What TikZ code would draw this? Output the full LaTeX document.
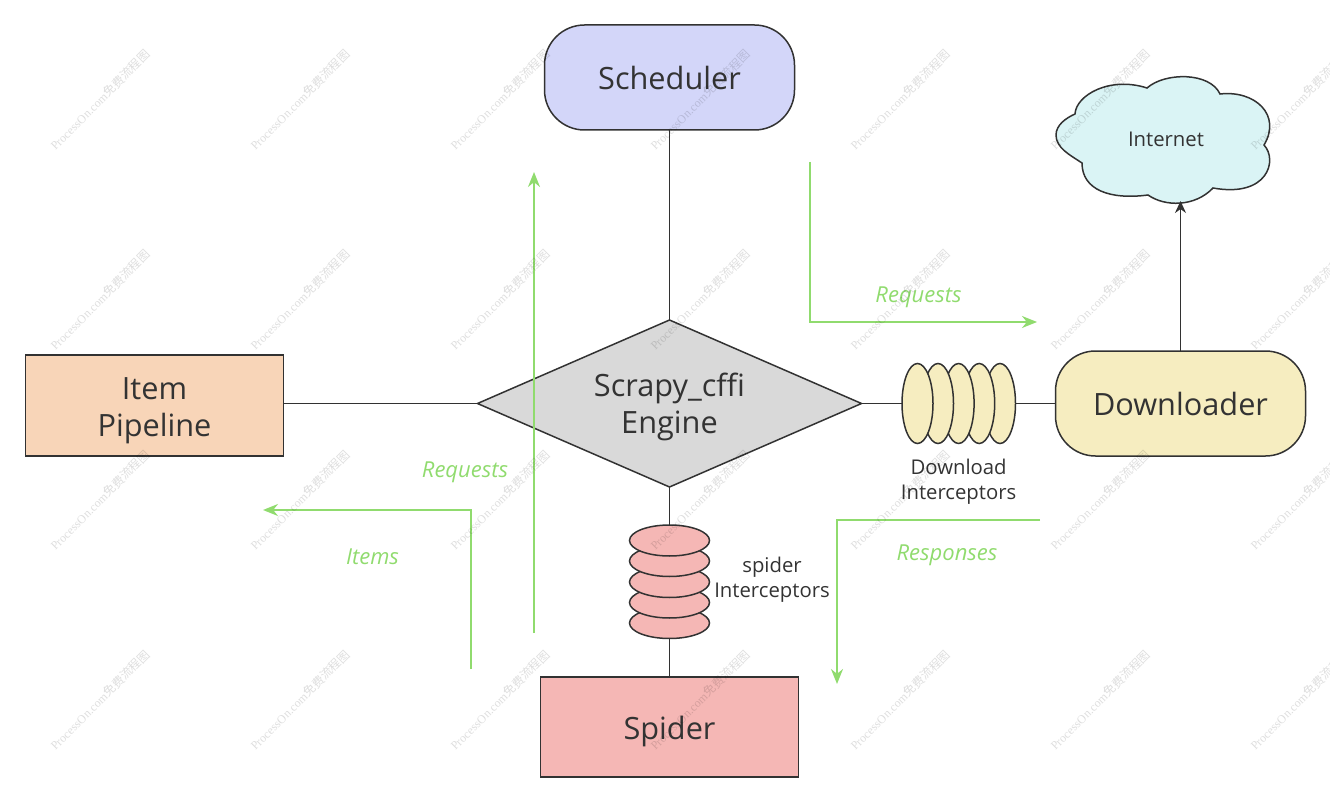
\documentclass[tikz,border=0pt]{standalone}
\usepackage{fontspec}
\setmainfont{Open Sans}
\newfontfamily\markfont{Liberation Serif}
\newfontfamily\cjkfont{Noto Sans CJK SC}
\usetikzlibrary{shapes.geometric, arrows.meta, positioning}
\definecolor{inkline}{HTML}{323232}
\definecolor{inktext}{HTML}{333333}
\definecolor{flowgreen}{HTML}{90DB6E}
\definecolor{schedfill}{HTML}{D3D6F9}
\definecolor{cloudfill}{HTML}{DAF4F5}
\definecolor{dlfill}{HTML}{F6EDC0}
\definecolor{pipefill}{HTML}{F8D5B8}
\definecolor{enginefill}{HTML}{D9D9D9}
\definecolor{spiderfill}{HTML}{F5B7B5}

\begin{document}
\begin{tikzpicture}[
      x=1pt, y=-1pt,
      % Define compact styles
      pill/.style={rectangle, draw=inkline, line width=1.5pt, outer sep=0pt, rounded corners=40pt, minimum width=250pt, minimum height=105pt, align=center, text=inktext, font=\fontsize{30.7}{37}\selectfont},
      box/.style={rectangle, draw=inkline, line width=1.5pt, outer sep=0pt, minimum width=258pt, minimum height=101pt, align=center, text=inktext, font=\fontsize{30.7}{37}\selectfont},
      engine/.style={diamond, draw=inkline, line width=1.5pt, outer sep=0pt, fill=enginefill, aspect=2.3, inner sep=0pt, minimum width=384pt, minimum height=167pt, align=center, text=inktext, font=\fontsize{30.7}{37}\selectfont},
      disc/.style={ellipse, draw=inkline, line width=1.5pt, outer sep=0pt, inner sep=0pt},
      caption/.style={align=center, text=inktext, font=\fontsize{20.3}{25}\selectfont},
      flowlabel/.style={text=flowgreen, font=\fontsize{22}{25}\selectfont\itshape},
      wire/.style={draw=inkline, line width=1.5pt},
      flow/.style={-{Stealth[length=15pt, width=12pt]}, draw=flowgreen, line width=2pt},
      watermark/.style={rotate=45, text=black, text opacity=0.13, font=\fontsize{12}{12}\selectfont}
    ]
    \useasboundingbox (0,0) rectangle (1330,802);

    % Main nodes round the engine
    \node[engine] (engine) at (669.5,403.5) {\rule{0pt}{31pt}Scrapy\_cffi\\Engine};
    \node[pill, fill=schedfill, above=190pt of engine] (scheduler) {Scheduler};
    \node[box, fill=pipefill, left=194pt of engine, yshift=-2pt] (pipeline) {\rule{0pt}{33pt}Item\\Pipeline};
    \node[box, fill=spiderfill, below=190pt of engine, minimum height=100pt] (spider) {\rule{0pt}{33pt}Spider};
    \node[pill, fill=dlfill] (downloader) at (1180.5,403.5) {Downloader};

    % Internet cloud
    \draw[draw=inkline, line width=1.5pt, fill=cloudfill]
      (1056,135) .. controls (1056,125) and (1066,118) .. (1075,114)
      .. controls (1076,95) and (1110,76) .. (1147,88)
      .. controls (1165,72) and (1210,72) .. (1220,94)
      .. controls (1255,90) and (1282,115) .. (1264,145)
      .. controls (1278,160) and (1268,198) .. (1213,188)
      .. controls (1195,207) and (1165,207) .. (1148,195)
      .. controls (1110,200) and (1082,190) .. (1082,163)
      .. controls (1070,155) and (1056,148) .. (1056,135) -- cycle;
    \node[caption] (internet) at (1166,139) {Internet};
    \coordinate (cloudbase) at (1180.5,201);

    % Download interceptors
    \foreach \i/\xpos in {5/1000, 4/979.2, 3/958.6, 2/938, 1/917.5}
      \node[disc, fill=dlfill, minimum width=31pt, minimum height=80pt] (dl\i) at (\xpos,403.5) {};
    \node[caption, below=12pt of dl3] (dlcaption) {Download\\Interceptors};

    % Spider interceptors
    \foreach \i/\ypos in {5/623, 4/602.5, 3/582, 2/561, 1/540.5}
      \node[disc, fill=spiderfill, minimum width=80pt, minimum height=31pt] (sp\i) at (669.5,\ypos) {};
    \node[caption] (spcaption) at (772,579.5) {spider\\Interceptors};

    % Black connectors
    \draw[wire] (scheduler) -- (engine);
    \draw[wire] (engine.west) -- (engine.west -| pipeline.east);
    \draw[wire] (engine.east) -- (dl1);
    \draw[wire] (dl5) -- (downloader);
    \draw[wire] (engine.south) -- (sp1);
    \draw[wire] (sp5) -- (spider);
    \draw[wire, -{Stealth[length=12pt, width=11pt]}] (downloader) -- (cloudbase);

    % Green flows
    \coordinate (reqAstart) at (810,162);
    \coordinate (reqAend) at (1037,322);
    \draw[flow] (reqAstart) |- (reqAend);
    \node[flowlabel] (reqAlabel) at (918.5,297) {Requests};

    \coordinate (reqBstart) at (534,633);
    \coordinate (reqBend) at (534,172);
    \draw[flow] (reqBstart) -- (reqBend);
    \node[flowlabel] (reqBlabel) at (465,472) {Requests};

    \coordinate (itemstart) at (470.5,669);
    \coordinate (itemend) at (263,510);
    \draw[flow] (itemstart) |- (itemend);
    \node[flowlabel] (itemlabel) at (372.5,557) {Items};

    \coordinate (respstart) at (1040,520);
    \coordinate (respend) at (837,684);
    \draw[flow] (respstart) -| (respend);
    \node[flowlabel] (resplabel) at (947,555) {Responses};

    % Watermark
    \begin{scope}
      \clip (0,0) rectangle (1330,802);
      \foreach \xpos in {100,300,...,1300}
        \foreach \ypos in {100,300,500,700}
          \node[watermark] at (\xpos,\ypos) {{\markfont ProcessOn.com}{\cjkfont 免费流程图}};
    \end{scope}

  \end{tikzpicture}
\end{document}
